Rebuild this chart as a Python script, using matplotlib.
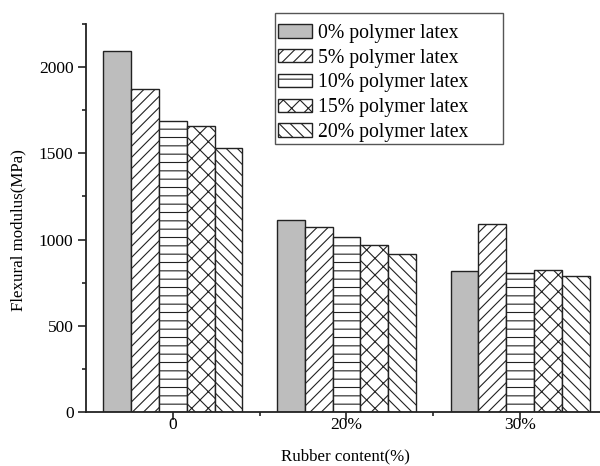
import matplotlib
matplotlib.use("Agg")
import matplotlib.pyplot as plt
import numpy as np
from matplotlib.ticker import MultipleLocator, FixedLocator
from matplotlib.patches import Rectangle

categories = ["0", "20%", "30%"]
series_labels = ["0% polymer latex", "5% polymer latex", "10% polymer latex",
                 "15% polymer latex", "20% polymer latex"]
latex_0 = [2093, 1112, 817]
latex_5 = [1874, 1070, 1091]
latex_10 = [1690, 1012, 808]
latex_15 = [1659, 967, 821]
latex_20 = [1533, 915, 788]
series = [latex_0, latex_5, latex_10, latex_15, latex_20]

hatches = ["", "///", "--", "xx", "\\\\\\"]
faces = ["#bdbdbd", "white", "white", "white", "white"]

plt.rcParams['font.family'] = ['Liberation Serif', 'DejaVu Serif']
plt.rcParams['hatch.linewidth'] = 0.8
plt.rcParams['hatch.color'] = '#222222'

fig = plt.figure(figsize=(6, 4.66), dpi=100)
ax = fig.add_axes([86/600, 1-412/466, 1-86/600, (412-24)/466])

x = np.arange(len(categories))
w = 0.16
for i, (vals, lab) in enumerate(zip(series, series_labels)):
    ax.bar(x + (i - 2) * w, vals, w, color=faces[i], edgecolor='#222222',
           hatch=hatches[i], linewidth=1.0, label=lab)

ax.set_xlim(-0.5, 2.46)
ax.set_ylim(0, 2250)
ax.set_xticks(x)
ax.set_xticklabels(categories)
ax.xaxis.set_minor_locator(FixedLocator([0.5, 1.5]))
ax.yaxis.set_major_locator(MultipleLocator(500))
ax.yaxis.set_minor_locator(MultipleLocator(250))
ax.tick_params(axis='y', which='major', length=6, width=1.2, labelsize=12.5, pad=3, color='#222222')
ax.tick_params(axis='x', which='major', length=5.5, width=1.2, labelsize=12.5, pad=-2, color='#222222')
ax.tick_params(axis='both', which='minor', length=3, width=1.2, color='#222222')
for s in ['top', 'right']:
    ax.spines[s].set_visible(False)
for s in ['left', 'bottom']:
    ax.spines[s].set_linewidth(1.3)
    ax.spines[s].set_color('#222222')

ax.set_ylabel("Flexural modulus(MPa)", fontsize=12.2)
ax.set_xlabel("Rubber content(%)", fontsize=12.2)
ax.yaxis.set_label_coords(-0.1167, 0.47)
ax.xaxis.set_label_coords(0.505, -0.095)

# legend box (wider than its content, as in the reference)
box = Rectangle((275/600, 1-144/466), (503-275)/600, (144-13.3)/466,
                transform=fig.transFigure, facecolor='white',
                edgecolor='#555555', linewidth=1.0, zorder=8, clip_on=False)
ax.add_patch(box)
leg = ax.legend(loc='upper left', bbox_to_anchor=(278/600, 1-24/466),
                bbox_transform=fig.transFigure, borderaxespad=0, fontsize=14.2,
                frameon=False, handlelength=1.7, handleheight=0.65,
                labelspacing=0.29, handletextpad=0.35, borderpad=0)
leg.set_zorder(9)

fig.savefig("out.png", dpi=100)
